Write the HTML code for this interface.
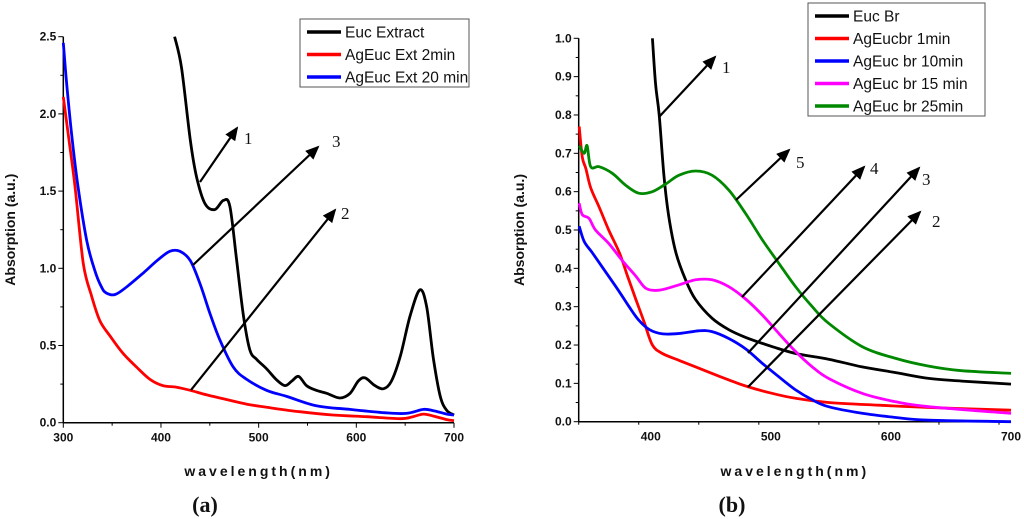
<!DOCTYPE html>
<html><head><meta charset="utf-8"><style>
html,body{margin:0;padding:0;background:#fff;}
svg{display:block;font-family:"Liberation Sans",sans-serif;}
.tk{font-size:12px;font-weight:bold;fill:#111;}
.ax{font-size:14px;font-weight:bold;fill:#111;}
.lg{font-size:15.5px;fill:#111;}
.an{font-family:"Liberation Serif",serif;font-size:17px;fill:#111;}
</style></head><body>
<svg id="s" width="1024" height="519" viewBox="0 0 1024 519" xmlns="http://www.w3.org/2000/svg">
<defs><marker id="ah2" markerWidth="14" markerHeight="12" refX="12" refY="6" orient="auto" markerUnits="userSpaceOnUse"><path d="M0,0 L14,6 L0,12 Z" fill="#000"/></marker></defs>
<g id="ga"></g>
<g id="gb"></g>
</svg>
<script>
// ---- Chart A data ----
const aXTicks=[300,400,500,600,700];
const aYTicks=[0.0,0.5,1.0,1.5,2.0,2.5];
const aBlackX=[414,421,430,436.5,445,455,464,470.6,477.5,484.5,491,498,508,518,527,534,541,549,559,570,583,593.5,602,609,619,628,636,645,655,665,672,679,686,692.5,700];
const aBlackY=[2.5,2.3,1.83,1.59,1.42,1.38,1.44,1.40,1.05,0.69,0.47,0.41,0.35,0.28,0.24,0.27,0.30,0.24,0.21,0.19,0.16,0.19,0.27,0.29,0.24,0.22,0.27,0.43,0.69,0.86,0.75,0.41,0.17,0.08,0.05];
const aRedX=[300,305,312,320.5,329,337.5,348,361,375,389,402,416,430,447,467,488,508,542,576,610.6,645,658,668.6,679,692.5,700];
const aRedY=[2.11,1.87,1.53,1.03,0.82,0.66,0.56,0.45,0.36,0.28,0.24,0.23,0.21,0.18,0.15,0.12,0.10,0.071,0.05,0.039,0.026,0.039,0.056,0.043,0.02,0.013];
const aBlueX=[300,303.4,308.5,315,324,332,339,344,353,365,382,396,409,419.5,430,440,450,460,474,488,508,529,559,593.5,628,651,668.6,679,692.5,700];
const aBlueY=[2.46,2.2,1.87,1.53,1.18,0.99,0.88,0.84,0.83,0.88,0.97,1.05,1.11,1.11,1.05,0.90,0.71,0.54,0.36,0.28,0.21,0.17,0.11,0.086,0.065,0.06,0.086,0.078,0.056,0.05];
// ---- Chart B data ----
const bXTicks=[400,500,600,700];
const bYTicks=[0.0,0.1,0.2,0.3,0.4,0.5,0.6,0.7,0.8,0.9,1.0];
const bBlackX=[401.4,404,407,411,415,421,429,437,451,465,479,501,520.6,548,576,604,631.5,659,700];
const bBlackY=[1.0,0.88,0.80,0.64,0.535,0.44,0.37,0.32,0.27,0.24,0.22,0.196,0.178,0.163,0.143,0.128,0.113,0.106,0.098];
const bRedX=[340.4,343,346,350,357,365,374,380.6,387.5,394.5,401.4,409.7,423.6,437.4,451,465,479,501,520.6,548,590,631.5,700];
const bRedY=[0.77,0.69,0.66,0.61,0.56,0.50,0.44,0.38,0.32,0.26,0.20,0.178,0.16,0.143,0.126,0.109,0.093,0.074,0.061,0.05,0.043,0.037,0.03];
const bBlueX=[340.4,344.6,351.5,362.6,373.6,382,390,399,410,423.6,440,451,465,479,493,506.7,520.6,534.5,548,576,604,631.5,700];
const bBlueY=[0.51,0.47,0.44,0.39,0.34,0.30,0.265,0.24,0.229,0.23,0.237,0.235,0.217,0.19,0.152,0.117,0.083,0.057,0.039,0.022,0.011,0.004,0];
const bMagX=[340.4,343,348.7,354,365,376.4,387.5,396,407,423.6,437.4,451,465,479,493,506.7,520.6,534.5,548,576,604,631.5,700];
const bMagY=[0.57,0.54,0.53,0.50,0.465,0.42,0.38,0.348,0.343,0.357,0.37,0.37,0.352,0.32,0.278,0.23,0.183,0.143,0.113,0.074,0.052,0.039,0.022];
const bGreenX=[340.4,344.6,347,350,357,368,379,390,401.4,412.5,423.6,437.4,451,465,479,493,506.7,520.6,534.5,548,576,604,631.5,659,700];
const bGreenY=[0.72,0.70,0.72,0.665,0.665,0.648,0.617,0.596,0.60,0.62,0.643,0.654,0.643,0.604,0.543,0.474,0.413,0.352,0.30,0.257,0.196,0.165,0.145,0.133,0.126];

const NS="http://www.w3.org/2000/svg";
function mk(tag,attrs,parent,text){const e=document.createElementNS(NS,tag);for(const k in attrs)e.setAttribute(k,attrs[k]);if(text!==undefined)e.textContent=text;parent.appendChild(e);return e;}
function smooth(pts){
  let d='M'+pts[0][0].toFixed(1)+','+pts[0][1].toFixed(1);
  for(let i=0;i<pts.length-1;i++){
    const p0=pts[Math.max(0,i-1)],p1=pts[i],p2=pts[i+1],p3=pts[Math.min(pts.length-1,i+2)];
    const c1=[p1[0]+(p2[0]-p0[0])/6,p1[1]+(p2[1]-p0[1])/6],c2=[p2[0]-(p3[0]-p1[0])/6,p2[1]-(p3[1]-p1[1])/6];
    d+=` C${c1[0].toFixed(1)},${c1[1].toFixed(1)} ${c2[0].toFixed(1)},${c2[1].toFixed(1)} ${p2[0].toFixed(1)},${p2[1].toFixed(1)}`;
  }
  return d;
}
function chart(g,opt){
  const sx=v=>opt.x0+(v-opt.xmin)/(opt.xmax-opt.xmin)*(opt.x1-opt.x0);
  const sy=v=>opt.y0-(v-opt.ymin)/(opt.ymax-opt.ymin)*(opt.y0-opt.y1);
  const axes=mk('g',{},g);
  
  
  mk('line',{x1:opt.x0,y1:opt.y1,x2:opt.x0,y2:opt.y0,stroke:'#000','stroke-width':1.5},axes);
  mk('line',{x1:opt.x0,y1:opt.y0,x2:opt.x1,y2:opt.y0,stroke:'#000','stroke-width':1.5},axes);
  for(let v=opt.xmin;v<=opt.xmax+1e-6;v+=opt.xminor){const m=Math.abs(v/opt.xstep-Math.round(v/opt.xstep))<1e-6;mk('line',{x1:sx(v),y1:opt.y0,x2:sx(v),y2:opt.y0+(m?5:3),stroke:'#000','stroke-width':1},axes);}
  for(let v=opt.ymin;v<=opt.ymax+1e-6;v+=opt.yminor){const m=Math.abs(v/opt.ystep-Math.round(v/opt.ystep))<1e-6;mk('line',{x1:opt.x0,y1:sy(v),x2:opt.x0-(m?5:3),y2:sy(v),stroke:'#000','stroke-width':1},axes);}
  opt.xt.forEach(v=>{const t=mk('text',{x:sx(v),y:opt.y0+19,'text-anchor':'middle',class:'tk'},axes,String(v));});
  opt.yt.forEach(v=>{const t=mk('text',{x:opt.x0-7,y:sy(v)+4,'text-anchor':'end',class:'tk'},axes,v.toFixed(1));});
  const yt=mk('text',{x:0,y:0,transform:`translate(${opt.ytx},${(opt.y0+opt.y1)/2}) rotate(-90)`,'text-anchor':'middle',class:'ax'},g,'Absorption (a.u.)');
  
  const xt=mk('text',{x:(opt.x0+opt.x1)/2,y:476,'text-anchor':'middle',class:'ax','letter-spacing':'3px'},g,opt.xtitle);
  
  opt.series.forEach(s=>{
    const pts=s.x.map((v,i)=>[sx(v),sy(s.y[i])]);
    const p=mk('path',{d:smooth(pts),fill:'none',stroke:s.c,'stroke-width':2.8,'stroke-linejoin':'round'},g);
    
  });
  const lg=mk('g',{},g);
  
  mk('rect',{x:opt.lx,y:opt.ly,width:opt.lw,height:opt.lh,fill:'#fff',stroke:'#555','stroke-width':1},lg);
  opt.series.forEach((s,i)=>{const yy=opt.ly+13+i*22.5;
    mk('line',{x1:opt.lx+7,y1:yy,x2:opt.lx+41,y2:yy,stroke:s.c,'stroke-width':3.5},lg);
    const t=mk('text',{x:opt.lx+45,y:yy+5.5,class:'lg'},lg,s.label);});
  opt.arrows.forEach(a=>{
    mk('line',{x1:a[0],y1:a[1],x2:a[2],y2:a[3],stroke:'#000','stroke-width':2.2,'marker-end':'url(#ah2)'},g);
    const t=mk('text',{x:a[4],y:a[5],class:'an'},g,a[6]);
  });
  const cap=mk('text',{x:opt.capx,y:512,'text-anchor':'middle','font-family':'Liberation Serif,serif','font-size':'22px','font-weight':'bold',fill:'#111'},g,opt.cap);
  
}
chart(document.getElementById('ga'),{x0:63.3,x1:454,y0:422.7,y1:36.7,xmin:300,xmax:700,ymin:0,ymax:2.5,xstep:100,xminor:50,ystep:0.5,yminor:0.25,xt:aXTicks,yt:aYTicks,ytx:15,xtitle:'wavelength(nm)',
 series:[{name:'euc-extract-line',label:'Euc Extract',c:'#000',x:aBlackX,y:aBlackY},{name:'ageuc-ext-2min-line',label:'AgEuc Ext 2min',c:'#f00',x:aRedX,y:aRedY},{name:'ageuc-ext-20min-line',label:'AgEuc Ext 20 min',c:'#00f',x:aBlueX,y:aBlueY}],
 lx:300,ly:19,lw:169,lh:68,
 arrows:[[200,182,237,128,244,144,'1'],[193,265,318,147,332,147,'3'],[191,390,335,210,341,219,'2']],capx:205,cap:'(a)'});
chart(document.getElementById('gb'),{x0:578.7,x1:1011,y0:421.7,y1:38.3,xmin:340,xmax:700,ymin:0,ymax:1.0,xstep:100,xminor:50,ystep:0.1,yminor:0.05,xt:bXTicks,yt:bYTicks,ytx:524,xtitle:'wavelength(nm)',
 series:[{name:'euc-br-line',label:'Euc Br',c:'#000',x:bBlackX,y:bBlackY},{name:'ageucbr-1min-line',label:'AgEucbr 1min',c:'#f00',x:bRedX,y:bRedY},{name:'ageuc-br-10min-line',label:'AgEuc br 10min',c:'#00f',x:bBlueX,y:bBlueY},{name:'ageuc-br-15min-line',label:'AgEuc br 15 min',c:'#f0f',x:bMagX,y:bMagY},{name:'ageuc-br-25min-line',label:'AgEuc br 25min',c:'#080',x:bGreenX,y:bGreenY}],
 lx:808,ly:3,lw:177,lh:113,
 arrows:[[659,117,715,57,722,73,'1'],[736,200,789,150,796,168,'5'],[742,297,864,167,870,174,'4'],[748,353,919,168,922,185,'3'],[748,387,920,212,932,227,'2']],capx:732,cap:'(b)'});
</script>
</body></html>
